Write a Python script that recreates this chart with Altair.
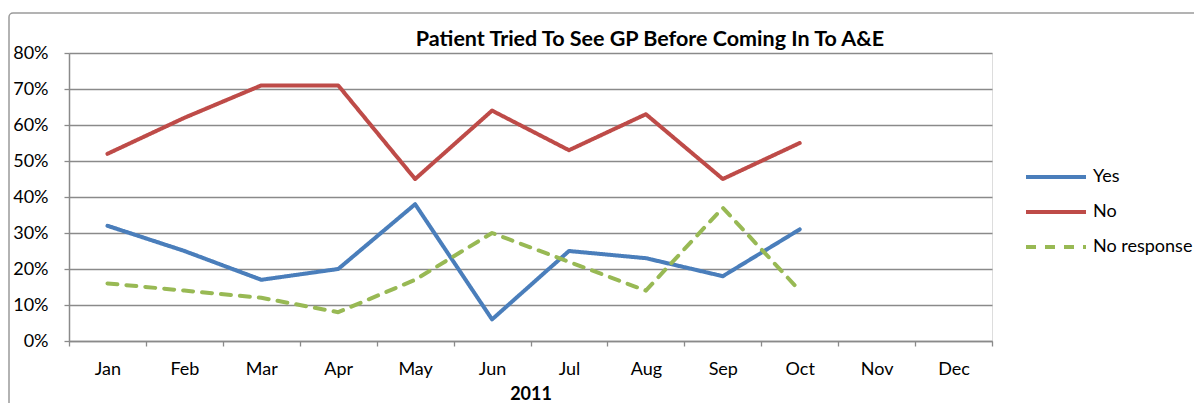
import altair as alt
import pandas as pd

months = ["Jan", "Feb", "Mar", "Apr", "May", "Jun", "Jul", "Aug", "Sep", "Oct", "Nov", "Dec"]
series_names = ["Yes", "No", "No response"]
yes_vals = [0.32, 0.25, 0.17, 0.20, 0.38, 0.06, 0.25, 0.23, 0.18, 0.31]
no_vals = [0.52, 0.62, 0.71, 0.71, 0.45, 0.64, 0.53, 0.63, 0.45, 0.55]
noresp_vals = [0.16, 0.14, 0.12, 0.08, 0.17, 0.30, 0.22, 0.14, 0.37, 0.14]
colors = ["#4A7EBB", "#BE4B48", "#98B954"]
dashes = [[1, 0], [1, 0], [10, 9]]
title_text = ["Patient Tried To See GP Before Coming In To A&E"]

rows = []
for name, vals in zip(series_names, [yes_vals, no_vals, noresp_vals]):
    for m, v in zip(months, vals):
        rows.append({"month": m, "value": v, "series": name})
df = pd.DataFrame(rows)

FONT = "Lato"
GRID = "#8a8a8a"
FS = 18

x_enc = alt.X(
    "month:N",
    sort=months,
    scale=alt.Scale(domain=months, paddingInner=0, paddingOuter=0),
    axis=alt.Axis(
        title="2011",
        titleFontWeight="bold",
        titleFontSize=FS,
        titleFont=FONT,
        titleColor="black",
        titlePadding=7,
        labelAngle=0,
        labelFont=FONT,
        labelFontSize=FS,
        labelColor="black",
        labelPadding=14,
        tickBand="extent",
        tickSize=5,
        tickColor=GRID,
        tickWidth=1.3,
        domainColor=GRID,
        domainWidth=1.5,
        grid=False,
    ),
)

y_enc = alt.Y(
    "value:Q",
    scale=alt.Scale(domain=[0, 0.8], nice=False),
    axis=alt.Axis(
        title=None,
        format=".0%",
        values=[0, 0.1, 0.2, 0.3, 0.4, 0.5, 0.6, 0.7, 0.8],
        labelFont=FONT,
        labelFontSize=FS,
        labelColor="black",
        labelPadding=16,
        tickSize=5,
        tickColor=GRID,
        tickWidth=1.3,
        domainColor=GRID,
        domainWidth=1.5,
        grid=True,
        gridColor=GRID,
        gridWidth=1.3,
    ),
)

lines = alt.Chart(df).mark_line(strokeWidth=4, strokeCap="round", strokeJoin="round").encode(
    x=x_enc,
    y=y_enc,
    color=alt.Color(
        "series:N",
        scale=alt.Scale(domain=series_names, range=colors),
        legend=alt.Legend(
            title=None,
            orient="none",
            legendX=975,
            legendY=112,
            symbolType="M -3 0 H 3",
            symbolSize=400,
            symbolStrokeWidth=4,
            labelFont=FONT,
            labelFontSize=FS,
            labelColor="black",
            labelOffset=25,
            rowPadding=14,
        ),
    ),
    strokeDash=alt.StrokeDash(
        "series:N",
        scale=alt.Scale(domain=series_names, range=dashes),
        legend=None,
    ),
    order=alt.Order("series:N"),
)

frame = alt.Chart(pd.DataFrame({"k": [0]})).mark_rect(
    fill=None, stroke="#9a9a9a", strokeWidth=1.5, cornerRadius=4, clip=False
).encode(
    x=alt.value(-60), x2=alt.value(1200), y=alt.value(-40), y2=alt.value(420)
)

title = alt.Chart(pd.DataFrame({"t": title_text})).mark_text(
    font=FONT, fontSize=21.5, fontWeight="bold", color="black",
    align="center", baseline="middle", clip=False
).encode(
    text="t:N", x=alt.value(581), y=alt.value(-13)
)

chart = alt.layer(frame, lines, title).properties(
    width=923,
    height=288,
    autosize=alt.AutoSizeParams(type="none"),
    padding={"left": 61, "top": 45, "right": 202, "bottom": 80},
).configure_view(stroke=None).configure(background="white")

chart.save("out.html", embed_options={"renderer": "svg", "actions": False})
